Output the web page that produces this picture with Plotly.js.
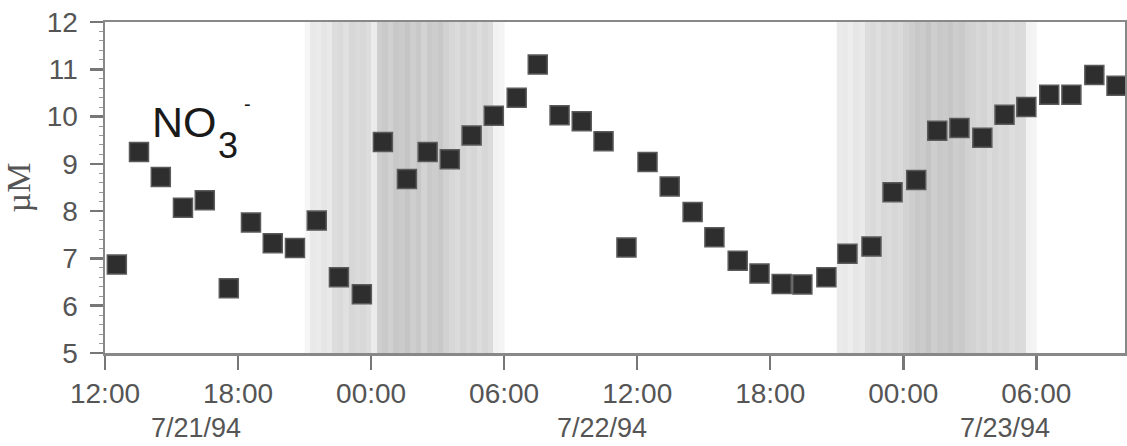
<!DOCTYPE html>
<html>
<head>
<meta charset="utf-8">
<script src="https://cdn.plot.ly/plotly-3.0.1.min.js"></script>
<style>html,body{margin:0;padding:0;background:#fff;}#chart{width:1127px;height:446px;}</style>
</head>
<body>
<div id="chart"></div>
<script>
// Sample times and nitrate concentrations (µM)
const sampleTimes = [
  '1994-07-21 12:32','1994-07-21 13:32','1994-07-21 14:31','1994-07-21 15:31','1994-07-21 16:30',
  '1994-07-21 17:35','1994-07-21 18:35','1994-07-21 19:34','1994-07-21 20:34','1994-07-21 21:33',
  '1994-07-21 22:33','1994-07-21 23:35','1994-07-22 00:32','1994-07-22 01:37','1994-07-22 02:33',
  '1994-07-22 03:33','1994-07-22 04:32','1994-07-22 05:32','1994-07-22 06:34','1994-07-22 07:31',
  '1994-07-22 08:30','1994-07-22 09:30','1994-07-22 10:29','1994-07-22 11:31','1994-07-22 12:28',
  '1994-07-22 13:28','1994-07-22 14:30','1994-07-22 15:29','1994-07-22 16:32','1994-07-22 17:31',
  '1994-07-22 18:31','1994-07-22 19:27','1994-07-22 20:32','1994-07-22 21:29','1994-07-22 22:34',
  '1994-07-22 23:31','1994-07-23 00:35','1994-07-23 01:32','1994-07-23 02:32','1994-07-23 03:34',
  '1994-07-23 04:34','1994-07-23 05:33','1994-07-23 06:35','1994-07-23 07:35','1994-07-23 08:37',
  '1994-07-23 09:37'
];
const no3Values = [
  6.87, 9.25, 8.72, 8.07, 8.23, 6.37, 7.76, 7.32, 7.22, 7.80,
  6.60, 6.24, 9.46, 8.68, 9.25, 9.10, 9.60, 10.02, 10.40, 11.10,
  10.03, 9.90, 9.48, 7.23, 9.04, 8.52, 7.98, 7.45, 6.95, 6.68,
  6.46, 6.45, 6.60, 7.10, 7.25, 8.40, 8.66, 9.70, 9.76, 9.55,
  10.04, 10.20, 10.46, 10.46, 10.88, 10.65
];

// Night shading: start of each night, 15-minute slices, relative darkness per slice
const nightStarts = ['1994-07-21 21:00', '1994-07-22 21:00'];
const sliceMinutes = 15;
const nightShade1 = [
  0.10,0.25,0.22,0.28,0.25,0.38,0.42,0.35,0.45,0.40,0.44,0.38,
  0.22,0.55,0.60,0.52,0.62,0.58,0.65,0.55,0.62,0.50,0.60,0.56,
  0.62,0.52,0.45,0.40,0.48,0.42,0.46,0.38,0.45,0.40,0.15,0.12
];
const nightShade2 = [
  0.22,0.25,0.20,0.28,0.24,0.38,0.42,0.36,0.44,0.40,0.45,0.42,
  0.50,0.55,0.62,0.58,0.66,0.55,0.62,0.60,0.64,0.56,0.60,0.52,
  0.50,0.45,0.48,0.40,0.46,0.42,0.44,0.38,0.42,0.40,0.15,0.12
];

const xRange = ['1994-07-21 12:00', '1994-07-23 10:00'];
const yRange = [5, 12];
const xTickStart = '1994-07-21 12:00';
const dateLabels = ['7/21/94', '7/22/94', '7/23/94'];
const dateLabelTimes = ['1994-07-21 16:05', '1994-07-22 10:25', '1994-07-23 04:35'];
// Species label, drawn in parts: main text, subscript, charge
const speciesLabel = ['NO', '3', '-'];

function sliceEdges(start, n) {
  const t0 = new Date(start.replace(' ', 'T') + ':00Z').getTime();
  const out = [];
  for (let i = 0; i <= n; i++) {
    const d = new Date(t0 + i * sliceMinutes * 60000);
    out.push(d.toISOString().slice(0, 16).replace('T', ' '));
  }
  return out;
}

const grayScale = [[0, '#ffffff'], [1, '#a6a6a6']];
const shadeTraces = [nightShade1, nightShade2].map((lev, k) => ({
  type: 'heatmap',
  x: sliceEdges(nightStarts[k], lev.length),
  y: yRange,
  z: [lev],
  zmin: 0, zmax: 1,
  colorscale: grayScale,
  showscale: false,
  hoverinfo: 'skip'
}));

const pointTrace = {
  type: 'scatter',
  mode: 'markers',
  x: sampleTimes,
  y: no3Values,
  marker: { symbol: 'square', size: 19, color: '#2e2e2e', line: { color: '#5a5a5a', width: 1.5 } },
  hoverinfo: 'x+y'
};

const fontFam = 'Liberation Sans, Arial, sans-serif';
const annotations = dateLabels.map((t, i) => ({
  text: t, x: dateLabelTimes[i], xref: 'x', y: -0.226, yref: 'paper',
  yanchor: 'middle', xanchor: 'center', showarrow: false,
  font: { family: fontFam, size: 27, color: '#555' }
}));
const labelPos = [
  { x: 0.044, y: 0.698, size: 43 },
  { x: 0.109, y: 0.628, size: 36 },
  { x: 0.134, y: 0.752, size: 20 }
];
speciesLabel.forEach((t, i) => annotations.push({
  text: t, xref: 'paper', yref: 'paper', x: labelPos[i].x, y: labelPos[i].y,
  xanchor: 'left', yanchor: 'middle', showarrow: false,
  font: { family: fontFam, size: labelPos[i].size, color: '#1a1a1a' }
}));

const layout = {
  width: 1127, height: 446,
  margin: { l: 105, r: 2, t: 22, b: 93 },
  paper_bgcolor: '#ffffff', plot_bgcolor: '#ffffff',
  showlegend: false,
  font: { family: fontFam, color: '#555', size: 28 },
  xaxis: {
    type: 'date', range: xRange, tick0: xTickStart, dtick: 6 * 3600000,
    tickformat: '%H:%M', ticks: 'outside', ticklen: 14, tickwidth: 2.5, tickcolor: '#777',
    showline: true, linecolor: '#888', linewidth: 2.5, mirror: true,
    showgrid: false, zeroline: false,
    tickfont: { family: fontFam, size: 28, color: '#555' }
  },
  yaxis: {
    range: yRange, dtick: 1, ticks: 'outside', ticklen: 13, tickwidth: 2.5, tickcolor: '#777',
    showline: true, linecolor: '#888', linewidth: 2.5, mirror: true,
    showgrid: false, zeroline: false, ticklabelstandoff: 6,
    minor: { dtick: 0.2, ticks: 'outside', ticklen: 4, tickcolor: '#999', tickwidth: 1, showgrid: false },
    tickfont: { family: fontFam, size: 28, color: '#555' },
    title: { text: 'µM', font: { family: 'Liberation Serif, Times New Roman, serif', size: 34, color: '#555' }, standoff: 8 }
  },
  annotations: annotations
};

Plotly.newPlot('chart', shadeTraces.concat([pointTrace]), layout, { displayModeBar: false, staticPlot: true });
</script>
</body>
</html>
